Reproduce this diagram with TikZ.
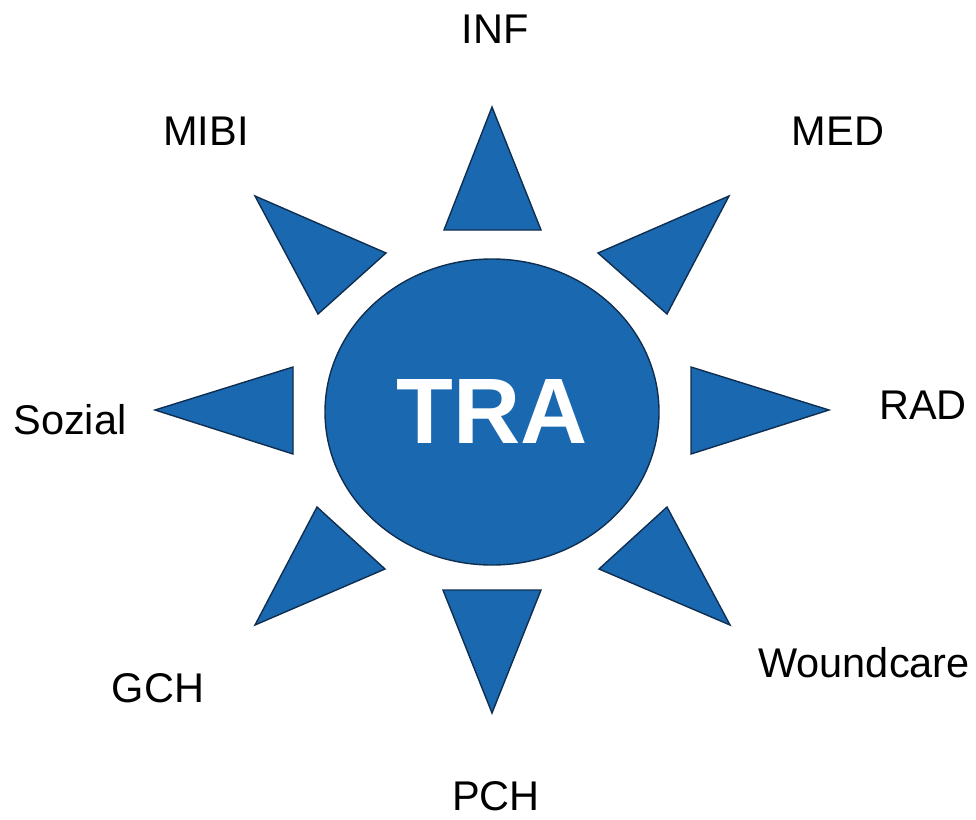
\documentclass[tikz,border=0pt]{standalone}
\usepackage{fontspec}
\setmainfont{Liberation Sans}
\usetikzlibrary{shapes.geometric}
\definecolor{sunblue}{RGB}{26,104,176}
\definecolor{sunline}{RGB}{16,46,80}

\begin{document}
\begin{tikzpicture}[x=1pt,y=-1pt,
        ray/.style={fill=sunblue,draw=sunline,line width=1.4pt,line join=miter},
        lbl/.style={font=\fontsize{41.5}{48}\selectfont,inner sep=0pt},
        core/.style={ellipse,fill=sunblue,draw=sunline,line width=1.4pt,
            minimum width=334pt,minimum height=306pt,text=white,
            font=\fontsize{93}{100}\selectfont\bfseries}]
        \useasboundingbox (0,0) rectangle (976,819);
        \node[core] (tra) at (492,412) {TRA};
        % rays
        \foreach \a/\b/\c in {{492,107}/{541,230}/{444,230},
            {729,196}/{667,314}/{598,253},
            {829,410}/{691,454}/{691,367},
            {730,625}/{599,569}/{667,507},
            {492,713}/{443,590}/{541,590},
            {255,625}/{317,507}/{385,569},
            {155,410}/{293,367}/{293,454},
            {255,196}/{386,253}/{318,314}}
            \draw[ray] (\a) -- (\b) -- (\c) -- cycle;
        % labels
        \node[lbl] (inf) at (495,29) {INF};
        \node[lbl] (med) at (838,131) {MED};
        \node[lbl] (rad) at (923,405) {RAD};
        \node[lbl] (wound) at (864,663) {Woundcare};
        \node[lbl] (pch) at (496,796) {PCH};
        \node[lbl] (gch) at (158,688) {GCH};
        \node[lbl] (sozial) at (70,420) {Sozial};
        \node[lbl] (mibi) at (206,131) {MIBI};
\end{tikzpicture}
\end{document}
